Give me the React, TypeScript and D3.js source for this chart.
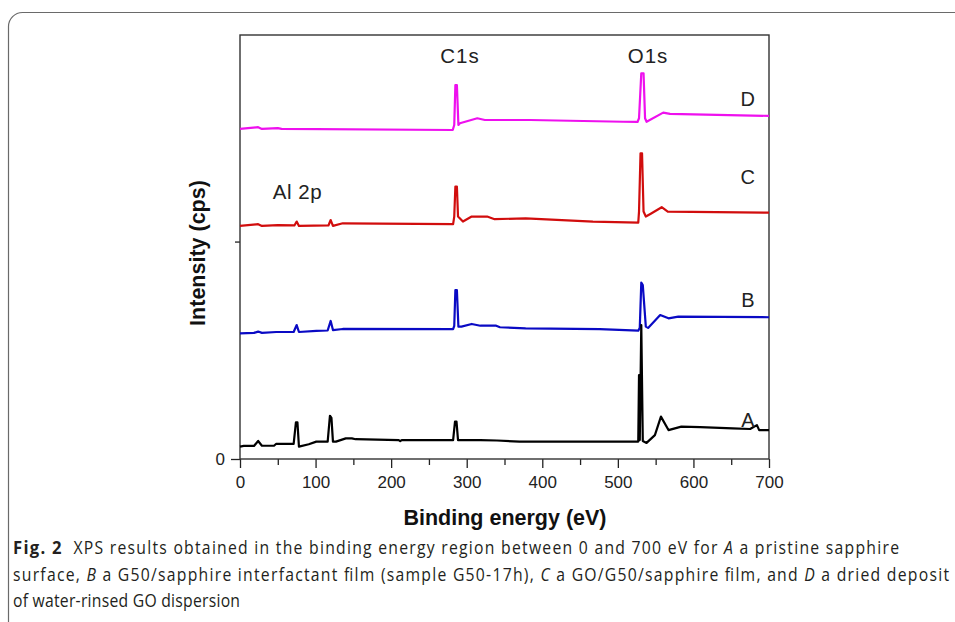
import React, { useEffect, useRef } from 'react';
import * as d3 from 'd3';

// XPS survey spectra, [binding energy (eV), intensity (arb. kcps)]
const spectrumA: [number, number][] = [
  [0, 5.7], [5, 6.0], [18.5, 6.0], [24, 8.3], [29, 6.1], [45, 6.1], [48, 7.0], [71, 7.0],
  [74, 16.9], [76, 16.9], [78, 5.7], [91, 6.8], [101, 8.0], [116, 8.0], [119, 19.9], [121, 18.9],
  [123, 8.0], [127, 8.0], [140, 9.5], [148, 9.5], [153, 9.1], [210, 8.7], [212, 8.2], [214, 8.7],
  [282, 8.7], [284.5, 17.2], [286.5, 17.2], [288.5, 8.7], [318, 8.7], [340, 8.5], [370, 8.0],
  [527, 8.0], [528, 38.6], [529, 8.7], [531, 61.6], [533, 8.3], [538, 7.4],
  [549, 11.0], [557, 19.5], [567, 13.3], [584, 14.9], [609, 14.7], [652, 14.1], [675, 13.8],
  [684, 15.6], [687, 13.3], [700, 13.3],
];

const spectrumB: [number, number][] = [
  [0, 57.8], [18.5, 58.0], [24, 58.6], [29, 58.0], [48, 58.4], [71, 58.4], [75, 61.6], [78, 58.4],
  [101, 58.9], [116, 59.1], [120, 63.5], [123, 59.3], [136, 59.8], [282, 59.7], [283.5, 61.2],
  [285, 77.7], [287, 77.7], [289, 60.9], [293, 60.9], [306.6, 62.1], [318, 61.3], [339, 61.3],
  [344, 60.6], [378, 60.1], [476, 59.7], [527, 59.0], [529, 60.3], [531, 81.1], [533, 80.0],
  [537, 60.9], [540, 60.3], [556, 66.2], [567, 64.7], [580, 65.5], [700, 65.2],
];

const spectrumC: [number, number][] = [
  [0, 107.2], [24, 108.0], [29, 107.2], [50, 107.6], [72, 107.4], [75, 109.2], [78, 107.2],
  [117, 107.4], [120, 109.9], [123, 107.2], [136, 108.4], [282, 108.0], [283.5, 111.5],
  [285, 125.3], [287, 125.3], [288.5, 111.5], [295, 109.2], [306.6, 111.5], [327, 111.5],
  [337, 110.3], [378, 110.7], [467, 109.2], [527, 108.7], [528, 113.8], [530, 140.6],
  [532, 140.6], [534, 113.8], [537, 111.5], [543, 112.7], [558, 115.8], [566, 113.8], [700, 113.3],
];

const spectrumD: [number, number][] = [
  [0, 151.8], [24, 152.6], [29, 151.8], [50, 152.2], [55, 151.8], [281.5, 151.3], [283.5, 153.6],
  [285, 172.0], [287, 172.0], [289, 153.6], [291, 154.4], [314, 156.7], [324, 155.9],
  [384, 155.9], [507, 155.1], [526, 155.0], [528, 156.7], [531, 177.4], [534, 177.4],
  [536, 156.7], [538, 155.1], [560, 159.3], [569, 158.7], [700, 157.8],
];

const seriesNames = ['D', 'C', 'B', 'A'];
const seriesColors = ['#ee10ee', '#d10d0d', '#0a0ac4', '#000000'];

const xMajorTicks = [0, 100, 200, 300, 400, 500, 600, 700];
const xMinorTicks = [50, 150, 250, 350, 450, 550, 650];

// peak labels: [text, eV, intensity, anchor]
const peakLabels: [string, number, number, string][] = [
  ['C1s', 291, 181.9, 'middle'],
  ['O1s', 540, 181.9, 'middle'],
  ['Al 2p', 43.5, 119.8, 'start'],
];
const curveLabelEnergy = 672;
const curveLabelLevels = [162.4, 126.5, 69.9, 14.7];

const captionLines = [
  [{ t: 'Fig. 2', s: 'b' }, { t: '  XPS results obtained in the binding energy region between 0 and 700 eV for ', s: '' }, { t: 'A', s: 'i' }, { t: ' a pristine sapphire', s: '' }],
  [{ t: 'surface, ', s: '' }, { t: 'B', s: 'i' }, { t: ' a G50/sapphire interfactant film (sample G50-17h), ', s: '' }, { t: 'C', s: 'i' }, { t: ' a GO/G50/sapphire film, and ', s: '' }, { t: 'D', s: 'i' }, { t: ' a dried deposit', s: '' }],
  [{ t: 'of water-rinsed GO dispersion', s: '' }],
];
const captionWidths = [886, 936, 227];

export default function App() {
  const svgRef = useRef<SVGSVGElement>(null);

  useEffect(() => {
    const root = d3.select(svgRef.current);
    root.selectAll('*').remove();

    const left = 240, right = 769, top = 35, bottom = 459;
    const font = "'Liberation Sans', Arial, sans-serif";

    // outer rounded frame
    root.append('rect')
      .attr('x', 8.5).attr('y', 12.5)
      .attr('width', 1100).attr('height', 800)
      .attr('rx', 14)
      .attr('fill', 'none').attr('stroke', '#6a6a6a').attr('stroke-width', 1.2);

    const x = d3.scaleLinear().domain([0, 700]).range([left, right]);
    const y = d3.scaleLinear().domain([0, 195]).range([bottom, top]);

    // x axis
    const xAxis = root.append('g').attr('transform', `translate(0,${bottom})`)
      .call(d3.axisBottom(x).tickValues(xMajorTicks).tickSize(9).tickSizeOuter(0).tickPadding(8));
    xAxis.select('.domain').remove();
    xAxis.selectAll('text').attr('font-family', font).attr('font-size', 17).attr('fill', '#222');
    xAxis.selectAll('line').attr('stroke', '#222').attr('stroke-width', 1.3);

    const xMinor = root.append('g').attr('transform', `translate(0,${bottom})`)
      .call(d3.axisBottom(x).tickValues(xMinorTicks).tickSize(6).tickSizeOuter(0).tickFormat(() => ''));
    xMinor.select('.domain').remove();
    xMinor.selectAll('line').attr('stroke', '#222').attr('stroke-width', 1.3);

    // y axis
    const yAxis = root.append('g').attr('transform', `translate(${left},0)`)
      .call(d3.axisLeft(y).tickValues([0]).tickSize(9).tickSizeOuter(0).tickPadding(6));
    yAxis.select('.domain').remove();
    yAxis.selectAll('text').attr('font-family', font).attr('font-size', 17).attr('fill', '#222');
    yAxis.selectAll('line').attr('stroke', '#222').attr('stroke-width', 1.3);

    const yMinor = root.append('g').attr('transform', `translate(${left},0)`)
      .call(d3.axisLeft(y).tickValues([100]).tickSize(5).tickSizeOuter(0).tickFormat(() => ''));
    yMinor.select('.domain').remove();
    yMinor.selectAll('line').attr('stroke', '#222').attr('stroke-width', 1.3);

    // plot box
    root.append('rect')
      .attr('x', left).attr('y', top)
      .attr('width', right - left).attr('height', bottom - top)
      .attr('fill', 'none').attr('stroke', '#333').attr('stroke-width', 1.4);

    // spectra
    const line = d3.line<[number, number]>()
      .x(d => x(d[0]))
      .y(d => y(d[1]));

    const spectra = [spectrumD, spectrumC, spectrumB, spectrumA];
    spectra.forEach((s, i) => {
      root.append('path')
        .datum(s)
        .attr('fill', 'none')
        .attr('stroke', seriesColors[i])
        .attr('stroke-width', 2.2)
        .attr('stroke-linejoin', 'round')
        .attr('d', line);
    });

    // curve labels
    seriesNames.forEach((n, i) => {
      root.append('text')
        .attr('x', x(curveLabelEnergy)).attr('y', y(curveLabelLevels[i]))
        .attr('text-anchor', 'middle')
        .attr('font-family', font).attr('font-size', 20).attr('fill', '#222')
        .text(n);
    });

    peakLabels.forEach(([t, e, v, a]) => {
      root.append('text')
        .attr('x', x(e)).attr('y', y(v))
        .attr('text-anchor', a)
        .attr('font-family', font).attr('font-size', 20.5).attr('fill', '#222')
        .attr('letter-spacing', t === 'Al 2p' ? 0.5 : 1)
        .text(t);
    });

    // axis titles
    root.append('text')
      .attr('x', 505).attr('y', 525)
      .attr('text-anchor', 'middle')
      .attr('font-family', font).attr('font-size', 21.5).attr('font-weight', 'bold').attr('fill', '#111')
      .text('Binding energy (eV)');

    root.append('text')
      .attr('transform', `translate(205,${(top + bottom) / 2 + 6}) rotate(-90)`)
      .attr('text-anchor', 'middle')
      .attr('font-family', font).attr('font-size', 21.5).attr('font-weight', 'bold').attr('fill', '#111')
      .text('Intensity (cps)');

    // caption (condensed look: slightly squeezed horizontally)
    const squeeze = 0.9;
    captionLines.forEach((parts, i) => {
      const t = root.append('text')
        .attr('transform', `translate(13,${554 + i * 26.5}) scale(${squeeze},1)`)
        .attr('font-family', "'Open Sans', 'Noto Sans', sans-serif")
        .attr('font-size', 17.5)
        .attr('fill', '#231f20')
        .attr('textLength', captionWidths[i] / squeeze)
        .attr('lengthAdjust', 'spacing')
        .attr('xml:space', 'preserve');
      parts.forEach(p => {
        t.append('tspan')
          .attr('font-weight', p.s === 'b' ? 'bold' : 'normal')
          .attr('font-style', p.s === 'i' ? 'italic' : 'normal')
          .attr('font-size', p.s === 'b' ? 18.5 : null)
          .text(p.t);
      });
    });
  }, []);

  return (
    <svg
      ref={svgRef}
      width={955}
      height={622}
      style={{ position: 'absolute', left: 0, top: 0, background: '#fff' }}
    />
  );
}
